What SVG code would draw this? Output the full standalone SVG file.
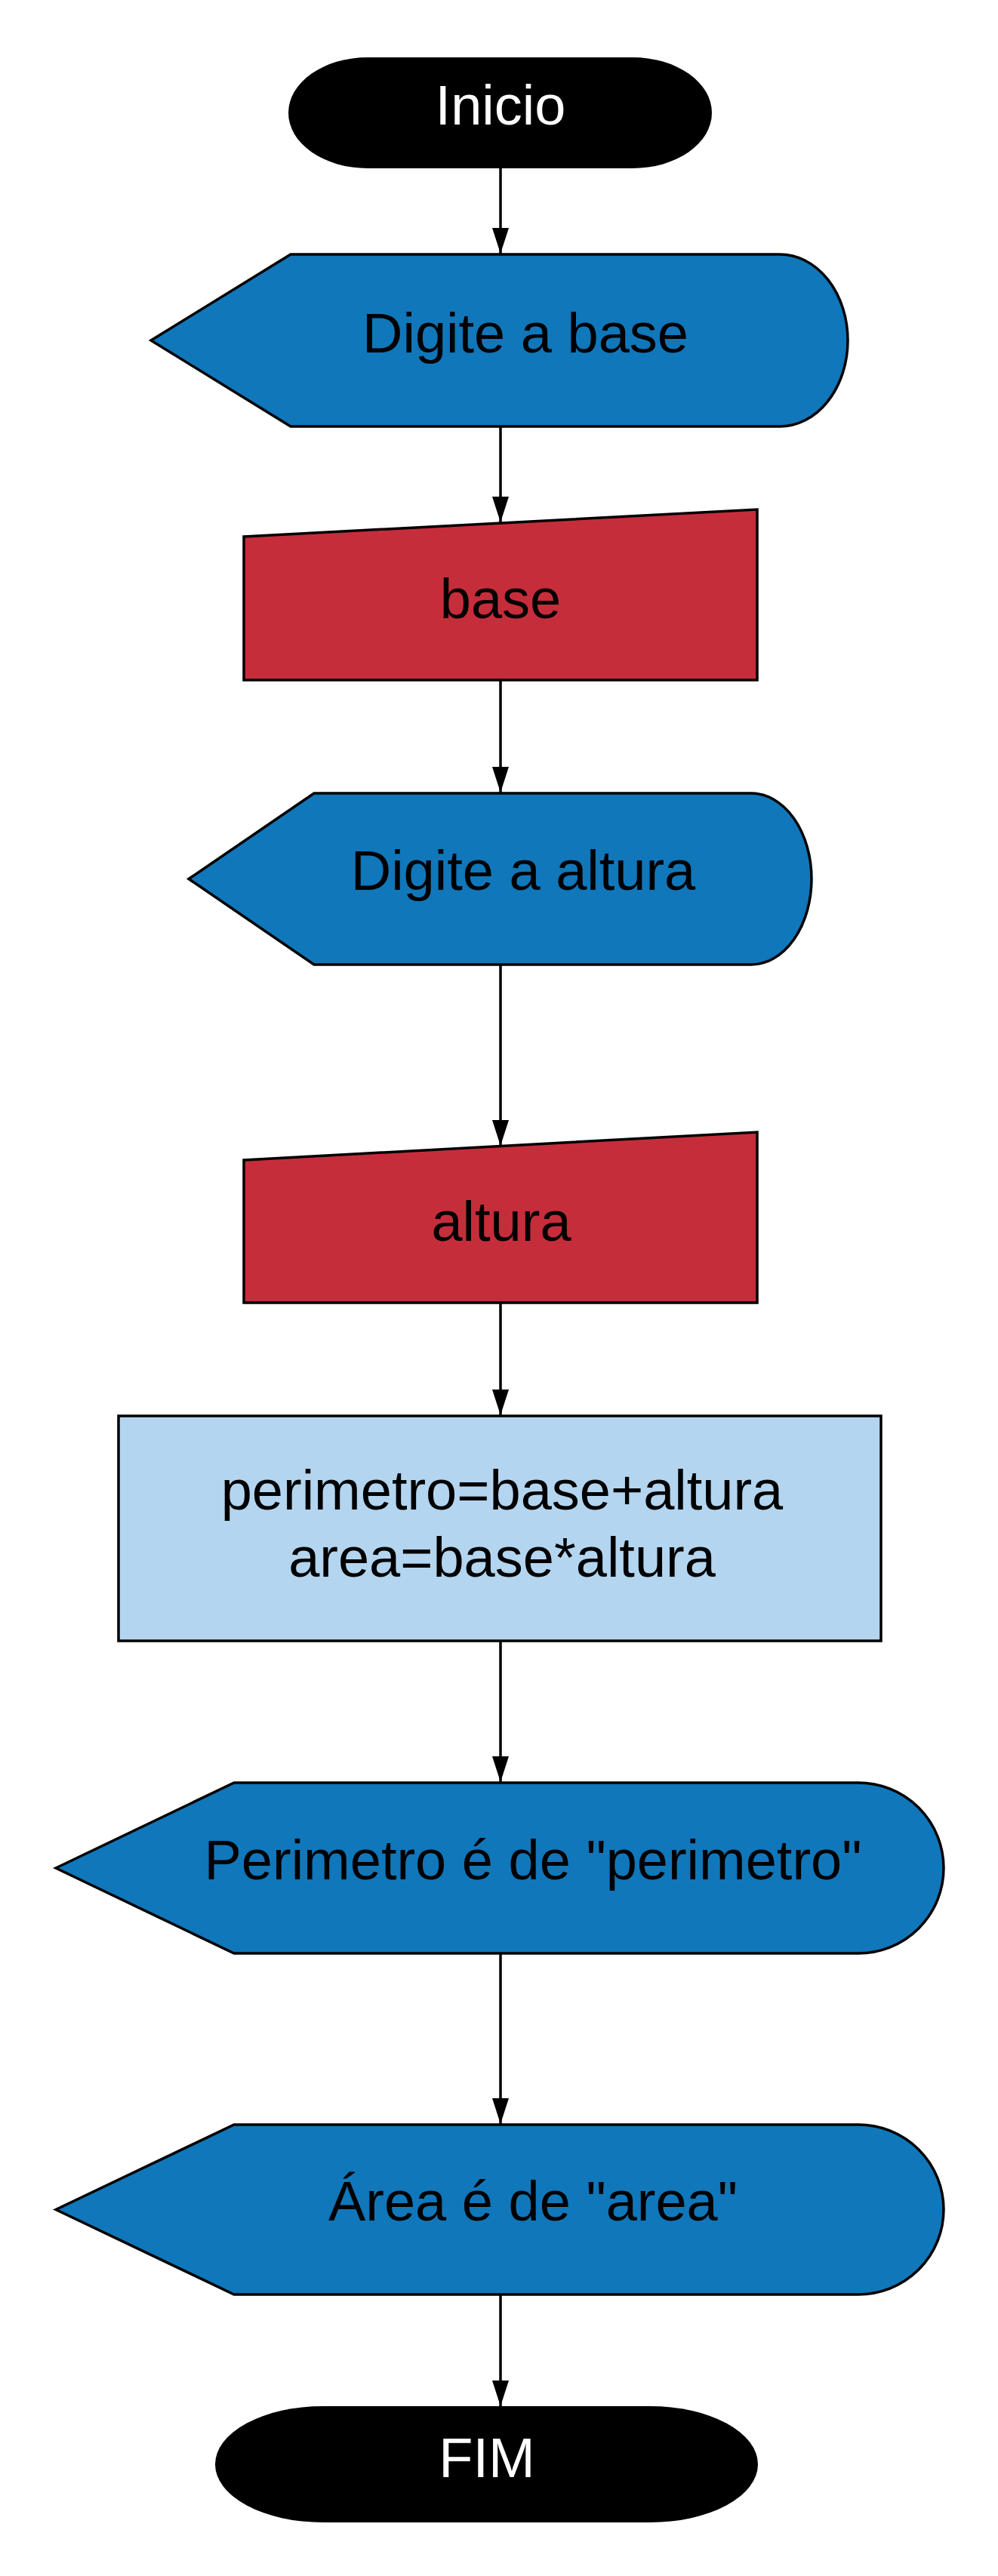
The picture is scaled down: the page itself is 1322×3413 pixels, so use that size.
<svg xmlns="http://www.w3.org/2000/svg" width="1322" height="3413" viewBox="0 0 1322 3413">
<style>
.lbl{font-family:"Liberation Sans",Arial,sans-serif;font-size:74px;text-anchor:middle;fill:#000}
.w{fill:#fff}
.disp{fill:#1077BA;stroke:#000;stroke-width:3.5}
.inp{fill:#C62D3A;stroke:#000;stroke-width:3.5}
.proc{fill:#B3D5EF;stroke:#000;stroke-width:3.5}
.term{fill:#000;stroke:none}
.edge{stroke:#000;stroke-width:3.5;fill:none;marker-end:url(#arr)}
</style>
<defs>
<marker id="arr" markerUnits="userSpaceOnUse" markerWidth="34" markerHeight="22" refX="34" refY="11" orient="auto">
<path d="M0,0 L34,11 L0,22 Z" fill="#000"/>
</marker>
</defs>
<rect width="1322" height="3413" fill="#fff"/>
<g id="connectors">
<line class="edge" x1="663" y1="223" x2="663" y2="336"/>
<line class="edge" x1="663" y1="565" x2="663" y2="692"/>
<line class="edge" x1="663" y1="901" x2="663" y2="1050"/>
<line class="edge" x1="663" y1="1278" x2="663" y2="1518"/>
<line class="edge" x1="663" y1="1726" x2="663" y2="1875"/>
<line class="edge" x1="663" y1="2174" x2="663" y2="2361"/>
<line class="edge" x1="663" y1="2588" x2="663" y2="2814"/>
<line class="edge" x1="663" y1="3040" x2="663" y2="3188"/>
</g>
<g id="inicio">
<rect class="term" x="382" y="76" width="561" height="147" rx="105" ry="73.5"/>
<text class="lbl w" x="663" y="165">Inicio</text>
</g>
<g id="digite-base">
<path class="disp" d="M200,451 L385,337 L1033,337 A90,114 0 0 1 1033,565 L385,565 Z"/>
<text class="lbl" x="696" y="467">Digite a base</text>
</g>
<g id="base">
<path class="inp" d="M323,711 L1003,675 L1003,901 L323,901 Z"/>
<text class="lbl" x="663" y="819">base</text>
</g>
<g id="digite-altura">
<path class="disp" d="M250,1164.5 L416,1051 L995,1051 A80,113.5 0 0 1 995,1278 L416,1278 Z"/>
<text class="lbl" x="693" y="1179">Digite a altura</text>
</g>
<g id="altura">
<path class="inp" d="M323,1537 L1003,1500 L1003,1726 L323,1726 Z"/>
<text class="lbl" x="664" y="1644">altura</text>
</g>
<g id="calculo">
<rect class="proc" x="157" y="1876" width="1010" height="298"/>
<text class="lbl" x="665" y="2000">perimetro=base+altura</text>
<text class="lbl" x="665" y="2089">area=base*altura</text>
</g>
<g id="mostra-perimetro">
<path class="disp" d="M74,2475 L310,2362 L1137,2362 A113,113 0 0 1 1137,2588 L310,2588 Z"/>
<text class="lbl" x="706" y="2490">Perimetro é de "perimetro"</text>
</g>
<g id="mostra-area">
<path class="disp" d="M74,2927.5 L310,2815 L1137,2815 A113,112.5 0 0 1 1137,3040 L310,3040 Z"/>
<text class="lbl" x="706" y="2942">Área é de "area"</text>
</g>
<g id="fim">
<rect class="term" x="285" y="3188" width="719" height="154" rx="143" ry="77"/>
<text class="lbl w" x="645" y="3282">FIM</text>
</g>
</svg>
